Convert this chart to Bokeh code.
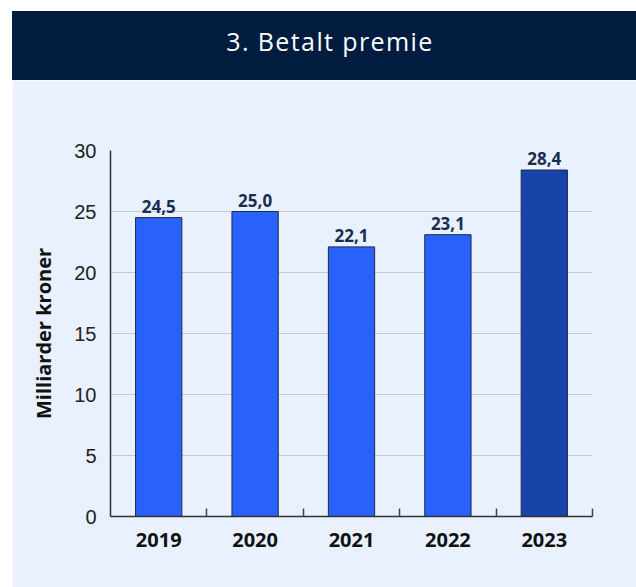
from bokeh.plotting import figure
from bokeh.models import ColumnDataSource, LabelSet, FixedTicker, Div, Range1d
from bokeh.layouts import column
from bokeh.core.properties import value
from bokeh.embed import file_html
from bokeh.resources import INLINE

years = ["2019", "2020", "2021", "2022", "2023"]
values = [24.5, 25.0, 22.1, 23.1, 28.4]
y_ticks = [0, 5, 10, 15, 20, 25, 30]
title_text = "3. Betalt premie"
y_label = "Milliarder kroner"

colors = ["#2962fa"] * 4 + ["#1843a8"]
xs = list(range(1, len(years) + 1))
labels = [f"{v:.1f}".replace(".", ",") for v in values]

src = ColumnDataSource(dict(x=xs, top=values, color=colors, label=labels))

BG = "#e8f1fd"
FONT = "Open Sans"

banner = Div(
    text=f'<div style="width:624px;height:69px;line-height:60px;text-align:center;padding-left:12px;box-sizing:border-box;'
         f'color:#ffffff;font-family:\'{FONT}\';font-size:25px;letter-spacing:1.4px;">{title_text}</div>',
    width=624, height=69, margin=(11, 0, 0, 12),
    styles={"background-color": "#001d40"},
)

p = figure(width=624, height=507, output_backend="svg", toolbar_location=None,
           x_range=Range1d(0.5, 5.5), y_range=Range1d(0, 30),
           min_border_left=98, min_border_right=44, min_border_top=70, min_border_bottom=71)
p.margin = (0, 0, 0, 12)
p.background_fill_color = BG
p.border_fill_color = BG
p.outline_line_color = None

p.vbar(x="x", top="top", width=0.48, bottom=0, source=src, fill_color="color",
       line_color="#1a2b4a", line_width=1)

p.add_layout(LabelSet(x="x", y="top", text="label", source=src, text_align="center",
                      text_baseline="bottom", y_offset=5, text_font_size=value("17px"),
                      text_font_style=value("bold"), text_color=value("#1b2d4f"),
                      text_font=value(FONT)))

# y axis
p.yaxis.ticker = FixedTicker(ticks=y_ticks)
p.yaxis.major_tick_line_color = None
p.yaxis.minor_tick_line_color = None
p.yaxis.major_label_standoff = 8
p.yaxis.major_label_text_font_size = "20px"
p.yaxis.major_label_text_color = "#222222"
p.yaxis.major_label_text_font = "Liberation Sans"
p.yaxis.axis_line_color = "#333333"
p.yaxis.axis_line_width = 1.5
p.yaxis.axis_label = y_label
p.yaxis.axis_label_text_font = FONT
p.yaxis.axis_label_text_font_size = "20px"
p.yaxis.axis_label_text_font_style = "bold"
p.yaxis.axis_label_text_color = "#111111"
p.yaxis.axis_label_standoff = 14

# x axis
p.xaxis.ticker = FixedTicker(ticks=xs, minor_ticks=[x + 0.5 for x in xs])
p.xaxis.major_label_overrides = {x: y for x, y in zip(xs, years)}
p.xaxis.major_tick_line_color = None
p.xaxis.minor_tick_in = 8
p.xaxis.minor_tick_out = 0
p.xaxis.minor_tick_line_color = "#444444"
p.xaxis.minor_tick_line_width = 1.5
p.xaxis.axis_line_color = "#333333"
p.xaxis.axis_line_width = 1.5
p.xaxis.major_label_standoff = 10
p.xaxis.major_label_text_font_size = "20px"
p.xaxis.major_label_text_font_style = "bold"
p.xaxis.major_label_text_color = "#111111"
p.xaxis.major_label_text_font = FONT

p.xgrid.grid_line_color = None
p.ygrid.ticker = FixedTicker(ticks=y_ticks)
p.ygrid.grid_line_color = "#c8c8c8"
p.ygrid.grid_line_width = 1

layout = column(banner, p, spacing=0)
open("out.html", "w").write(file_html(layout, INLINE))
